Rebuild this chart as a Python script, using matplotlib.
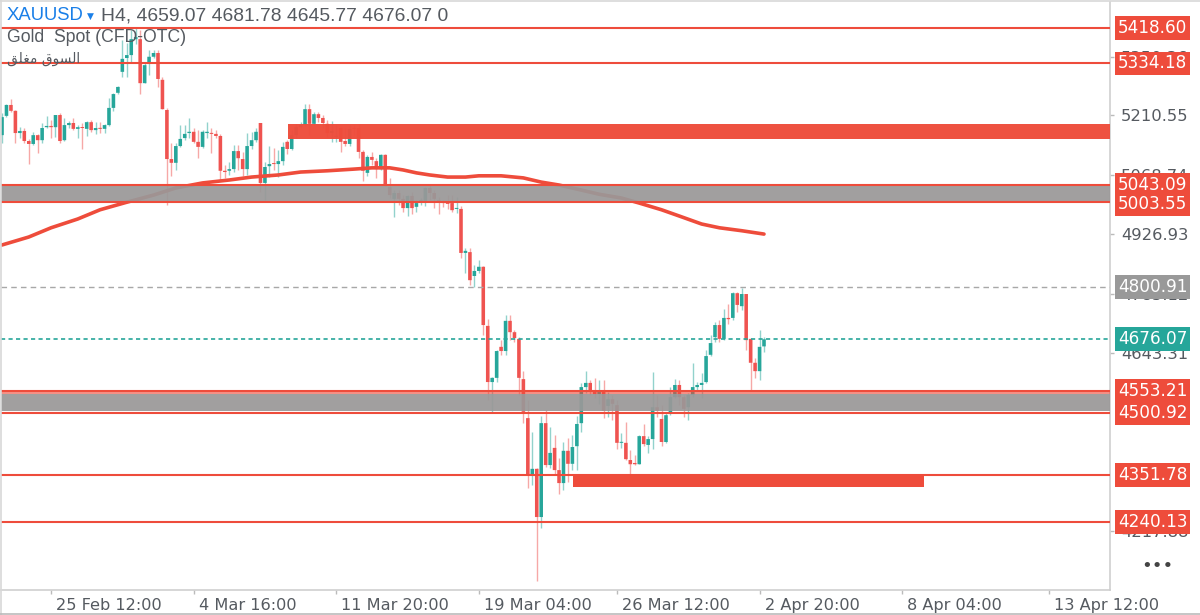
import matplotlib
matplotlib.use("Agg")
import matplotlib.pyplot as plt
import numpy as np
from matplotlib.transforms import blended_transform_factory, ScaledTranslation
from matplotlib.patches import Rectangle

opens = [5163,5209,5235,5221,5168,5173,5149,5142,5163,5151,5182,5185,5182,5211,5151,5187,5192,5178,5182,5178,
 5194,5175,5180,5178,5187,5228,5264,5314,5347,5354,5392,5392,5287,5335,5350,5359,5295,5223,5106,5097,
 5137,5156,5168,5171,5147,5135,5168,5168,5166,5161,5078,5078,5082,5125,5106,5082,5137,5151,5192,5049,
 5089,5096,5094,5101,5147,5130,5163,5182,5187,5225,5190,5213,5204,5190,5168,5159,5180,5149,5142,5180,
 5180,5123,5073,5111,5101,5082,5116,5039,5011,5025,5011,4989,5018,4992,5003,5006,5037,5025,5008,5003,
 5001,5001,4987,4987,4882,4884,4827,4839,4849,4708,4574,4584,4658,4648,4720,4693,4677,4581,4488,4352,
 4367,4252,4476,4376,4417,4364,4333,4410,4379,4421,4476,4562,4572,4553,4545,4553,4517,4533,4519,4429,
 4429,4388,4381,4378,4445,4424,4438,4514,4486,4431,4498,4538,4567,4538,4514,4543,4562,4567,4574,4639,
 4681,4710,4677,4727,4727,4786,4755,4784,4677,4620,4600,4659.07]
highs = [5216,5237,5249,5223,5182,5180,5154,5171,5166,5192,5209,5199,5211,5216,5204,5197,5204,5187,5192,5197,
 5199,5194,5194,5190,5252,5264,5280,5390,5383,5414,5420,5414,5338,5366,5366,5366,5302,5228,5144,5144,
 5187,5187,5204,5180,5175,5175,5194,5180,5175,5166,5092,5099,5140,5140,5123,5168,5171,5180,5192,5099,
 5137,5132,5128,5147,5151,5175,5190,5194,5237,5237,5218,5218,5211,5199,5197,5187,5182,5180,5187,5187,
 5190,5128,5116,5123,5108,5118,5118,5061,5032,5032,5020,5020,5027,5008,5013,5039,5044,5032,5015,5008,
 5020,5020,5015,4994,4894,4894,4853,4865,4851,4724,4586,4650,4674,4734,4734,4698,4681,4600,4531,4455,
 4369,4493,4507,4467,4448,4393,4431,4441,4448,4493,4572,4600,4579,4584,4579,4579,4550,4543,4531,4452,
 4479,4412,4400,4448,4474,4445,4598,4543,4519,4503,4562,4581,4579,4543,4548,4620,4574,4596,4650,4686,
 4717,4722,4748,4760,4789,4789,4798,4784,4679,4632,4698,4681.78]
lows = [5144,5206,5218,5144,5156,5144,5094,5140,5120,5144,5180,5156,5159,5144,5149,5180,5175,5156,5130,5161,
 5170,5166,5168,5168,5185,5221,5261,5302,5302,5338,5380,5261,5287,5306,5347,5278,5225,4996,5065,5080,
 5135,5151,5156,5144,5108,5132,5156,5120,5156,5056,5061,5068,5075,5080,5065,5068,5130,5147,5027,5008,
 5063,5080,5063,5092,5118,5128,5156,5180,5185,5163,5187,5194,5180,5159,5147,5147,5123,5137,5137,5163,
 5108,5054,5065,5092,5061,5080,5042,5013,4968,4996,4980,4970,4975,4980,4996,4994,5008,4989,4975,4992,
 4987,4980,4977,4870,4834,4805,4801,4834,4686,4531,4503,4574,4639,4639,4674,4670,4543,4476,4321,4328,
 4100,4226,4371,4369,4352,4307,4316,4336,4364,4364,4455,4548,4543,4536,4522,4488,4491,4483,4414,4417,
 4388,4352,4376,4378,4421,4405,4414,4491,4421,4429,4495,4536,4519,4491,4483,4538,4553,4536,4572,4636,
 4670,4670,4674,4713,4722,4741,4746,4650,4555,4584,4579,4645.77]
closes = [5206,5235,5221,5168,5173,5149,5142,5163,5151,5180,5185,5182,5211,5149,5187,5192,5178,5182,5180,5194,
 5175,5180,5178,5187,5228,5261,5278,5345,5354,5392,5397,5287,5330,5350,5359,5297,5225,5106,5097,5137,
 5154,5166,5171,5147,5135,5171,5171,5166,5161,5078,5075,5082,5125,5108,5082,5137,5151,5171,5049,5087,
 5094,5094,5101,5135,5130,5163,5182,5187,5225,5190,5213,5204,5192,5168,5173,5161,5147,5142,5178,5178,
 5123,5078,5111,5104,5082,5116,5044,5020,5025,5011,4989,5018,4989,5001,5008,5037,5025,5011,5003,5001,
 4999,4984,4989,4882,4887,4817,4839,4849,4710,4574,4584,4648,4648,4720,4693,4679,4584,4503,4352,4367,
 4252,4476,4376,4405,4364,4333,4410,4379,4419,4474,4562,4572,4555,4545,4553,4505,4533,4522,4429,4431,
 4390,4378,4378,4445,4426,4438,4514,4505,4431,4495,4538,4567,4538,4510,4543,4562,4567,4572,4636,4667,
 4710,4677,4727,4724,4786,4758,4784,4674,4620,4600,4658,4676.07]

# moving average: bar number and price
ma_bars = [0,6,11,17,22,28,34,39,45,51,56,62,67,73,79,83,87,90,93,96,100,104,107,112,117,121,125,130,134,139,143,148,152,157,161,166,171]
ma_values = [4901,4920,4942,4963,4985,5003,5020,5037,5049,5056,5063,5068,5075,5078,5082,5085,5085,5080,5073,5068,5063,5063,5066,5066,5061,5051,5044,5032,5022,5013,5001,4985,4970,4951,4942,4935,4927]

yticks = [5350.36,5210.55,5068.74,4926.93,4785.12,4643.31,4217.88]
xtick_labels = ["25 Feb 12:00","4 Mar 16:00","11 Mar 20:00","19 Mar 04:00","26 Mar 12:00","2 Apr 20:00","8 Apr 04:00","13 Apr 12:00"]
xtick_bars = [11,43,75,107,138,170,202,235]

level_prices = [5418.60,5334.18,5043.09,5003.55,4553.21,4500.92,4351.78,4240.13]
RED = "#ee4c3b"; CANDLE_RED = "#ef5350"; TEAL = "#26a69a"; GREY = "#9a9898"; TXT = "#555a60"

W, H = 1200, 615
L, R, T, B = 1, 1110, 2, 590
fig = plt.figure(figsize=(W/100, H/100), dpi=100, facecolor="white")
ax = fig.add_axes([L/W, 1-B/H, (R-L)/W, (B-T)/H])

PXU = 2.3855
SP = 4.456
n = len(closes)
x0 = n-1-(764-L)/SP

idx = np.arange(n)
o, h, l, c = map(np.array, (opens, highs, lows, closes))
up = c >= o
cols = np.where(up, TEAL, CANDLE_RED)
ax.vlines(idx, l, h, colors=cols, lw=1.0, alpha=0.5, zorder=2)
bars = ax.bar(idx, np.maximum(np.abs(c-o), 2.4), bottom=np.minimum(o, c), width=0.8, color=cols, lw=0, zorder=3)
for b in bars:
    b.set_snap(False)
ax.plot(ma_bars, ma_values, color=RED, lw=2.6, zorder=4, solid_capstyle="round", solid_joinstyle="round")

def pxx(p): return x0+(p-L)/SP
def pxy(p): return 5418.6-(p-28)*PXU

ax.axhspan(5003.55, 5043.09, color=GREY, alpha=0.93, lw=0, zorder=5)
ax.axhspan(pxy(411), pxy(394), color=GREY, alpha=0.93, lw=0, zorder=5)
ax.add_patch(Rectangle((pxx(288), pxy(139)), pxx(1110)-pxx(288), pxy(124)-pxy(139), color=RED, alpha=0.97, lw=0, zorder=5))
ax.add_patch(Rectangle((pxx(573), pxy(487)), pxx(924)-pxx(573), pxy(476)-pxy(487), color=RED, lw=0, zorder=5))

for p in level_prices:
    ax.axhline(p, color=RED, lw=1.5, zorder=6)
ax.axhline(4553.21-6, color=RED, lw=1.1, alpha=0.8, zorder=6)
ax.axhline(4800.91, color="#a8a8a8", lw=1, ls=(0, (4, 3)), zorder=6)
ax.axhline(4676.07, color=TEAL, lw=1.2, ls=(0, (2.5, 2)), zorder=6)

for s in ("top", "left"):
    ax.spines[s].set_visible(False)
for s in ("right", "bottom"):
    ax.spines[s].set_color("#cfcfcf"); ax.spines[s].set_linewidth(1.2)

ax.yaxis.tick_right()
ax.set_yticks(yticks)
ax.set_yticklabels([f"{v:.2f}" for v in yticks], fontsize=11.8, color=TXT, family="DejaVu Sans")
ax.tick_params(axis="y", length=3, width=1, color="#bbbbbb", pad=5)
ax.set_xticks(xtick_bars)
ax.set_xticklabels(xtick_labels, fontsize=11.6, color=TXT, family="DejaVu Sans", ha="left")
ax.tick_params(axis="x", length=3, width=1, color="#bbbbbb", pad=3)
ax.set_xlim(x0, x0+(R-L)/SP)
ax.set_ylim(5418.6-(B-28)*PXU, 5418.6+(28-T)*PXU)
for lab in ax.get_xticklabels():
    lab.set_transform(lab.get_transform()+ScaledTranslation(5/100, 0, fig.dpi_scale_trans))

tr = blended_transform_factory(ax.transAxes, ax.transData)
tx = 1+8/(R-L)
tags = [(5418.60,RED),(5334.18,RED),(5043.09+1,RED),(5003.55-5,RED),(4800.91,"#999999"),(4676.07,TEAL),
        (4553.21,RED),(4500.92,RED),(4351.78,RED),(4240.13,RED)]
names = ["5418.60","5334.18","5043.09","5003.55","4800.91","4676.07","4553.21","4500.92","4351.78","4240.13"]
for (p, col), s in zip(tags, names):
    ax.text(tx, p, s, transform=tr, color="white", fontsize=12.2, family="DejaVu Sans", va="center", ha="left",
            zorder=10, clip_on=False,
            bbox=dict(boxstyle="square,pad=0.17", fc=col, ec="none"))

def ftext(x, y, s, **kw):
    fig.text(x/W, 1-y/H, s, va="center", ha="left", zorder=20, **kw)

ftext(7, 16, "XAUUSD", color="#1a7fe8", fontsize=13.3, family="Liberation Sans")
ftext(87, 16, "▼", color="#1a7fe8", fontsize=6.5, family="DejaVu Sans")
ftext(101, 16, "H4, 4659.07 4681.78 4645.77 4676.07 0", color=TXT, fontsize=13.9, family="Liberation Sans")
ftext(7, 38, "Gold  Spot (CFD-OTC)", color=TXT, fontsize=12.7, family="Liberation Sans")
ftext(7, 59, "ﻖﻠﻐﻣ ﻕﻮﺴﻟﺍ", color=TXT, fontsize=10, family="DejaVu Sans")
ftext(1141, 566, "•••", color="#444444", fontsize=13, family="DejaVu Sans")

fig.add_artist(plt.Line2D([0, 1], [1-1/H, 1-1/H], color="#d8d8d8", lw=1.2))
fig.add_artist(plt.Line2D([1/W, 1/W], [0, 1], color="#d8d8d8", lw=1.2))
fig.add_artist(plt.Line2D([0, 1], [1-613.5/H, 1-613.5/H], color="#bbbbbb", lw=1.2))

fig.savefig("out.png", dpi=100)
